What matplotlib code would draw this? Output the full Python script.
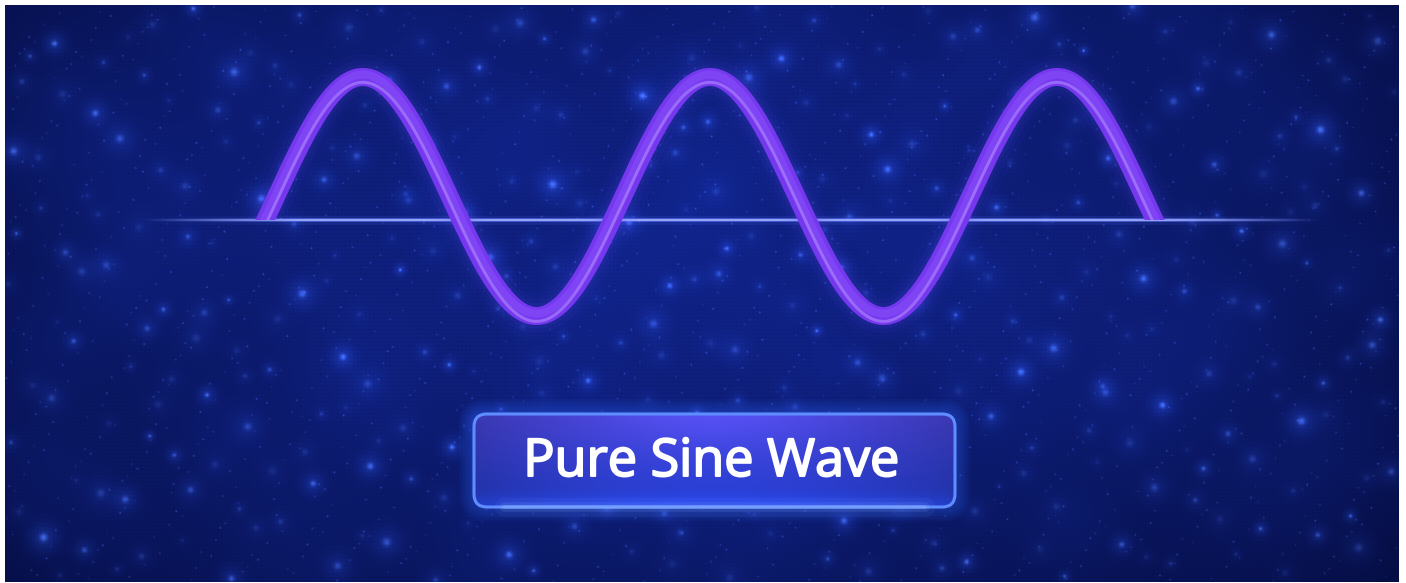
import numpy as np
import matplotlib
matplotlib.use('Agg')
import matplotlib.pyplot as plt
import matplotlib.patheffects as pe
from matplotlib.patches import FancyBboxPatch, Polygon
from matplotlib.collections import LineCollection

# --- chart values (t in cycles, v in amplitude units) ---
cycles = 2.5          # number of full periods shown
amplitude = 1.0
baseline_level = -0.2  # reference line sits slightly below the wave's centre
label = "Pure Sine Wave"

W, H, DPI = 1406, 583, 100


def halton(i, b):
    f, r = 1.0, 0.0
    while i > 0:
        f /= b
        r += f * (i % b)
        i //= b
    return r


def add_blob(img, cx, cy, sigma, amp, col):
    rr = int(3 * sigma) + 1
    x0, x1 = max(0, int(cx) - rr), min(img.shape[1], int(cx) + rr + 1)
    y0, y1 = max(0, int(cy) - rr), min(img.shape[0], int(cy) + rr + 1)
    if x0 >= x1 or y0 >= y1:
        return
    yy, xx = np.mgrid[y0:y1, x0:x1]
    g = np.exp(-((xx - cx) ** 2 + (yy - cy) ** 2) / (2 * sigma ** 2)) * amp
    img[y0:y1, x0:x1] += g[..., None] * np.array(col)[None, None, :]


def starfield(w, h):
    """Deep blue backdrop with soft star glows (decoration only)."""
    yy, xx = np.mgrid[0:h, 0:w]
    r = np.sqrt(((xx - w * 0.48) / (w * 0.55)) ** 2 + ((yy - h * 0.4) / (h * 0.8)) ** 2)
    m = np.clip(r, 0, 1.3) / 1.3
    centre = np.array([15, 32, 128]) / 255
    edge = np.array([5, 12, 62]) / 255
    img = centre[None, None, :] * (1 - m[..., None] ** 1.5) + edge[None, None, :] * (m[..., None] ** 1.5)
    # faint haze patches
    for k in range(1, 50):
        add_blob(img, halton(k, 2) * w, halton(k, 3) * h, 25 + 45 * halton(k, 5), 0.045,
                 (0.15, 0.3, 0.9))
    # glowing stars
    for k in range(1, 360):
        cx, cy = halton(k + 50, 2) * w, halton(k + 50, 3) * h
        s = 1.5 + 3.0 * halton(k, 7)
        a = 0.08 + 0.33 * halton(k, 5) ** 2
        add_blob(img, cx, cy, s * 2.4, a * 0.45, (0.25, 0.45, 1.0))
        add_blob(img, cx, cy, s * 0.6, a, (0.45, 0.65, 1.0))
    # tiny specks
    for k in range(1, 1500):
        cx, cy = halton(k + 900, 5) * w, halton(k + 900, 7) * h
        add_blob(img, cx, cy, 0.7, 0.08 + 0.2 * halton(k, 3), (0.4, 0.55, 1.0))
    # fine LED-screen texture
    tex = 1 - 0.07 * ((xx % 4 == 0) | (yy % 4 == 0))
    img = img * tex[..., None]
    return np.clip(img, 0, 1)


fig = plt.figure(figsize=(W / DPI, H / DPI), dpi=DPI, facecolor='white')

# background + label layer in pixel coordinates
bg = fig.add_axes([0, 0, 1, 1])
bg.set_facecolor('white')
bg.imshow(starfield(1394, 577), extent=(5, 1399, 582, 5), interpolation='bilinear',
          aspect='auto', zorder=0)
bg.set_xlim(0, W)
bg.set_ylim(H, 0)
bg.axis('off')

# label box
bx, by, bw, bh = 474, 414, 481, 93
for k in range(10, 0, -1):
    glow = FancyBboxPatch((bx, by), bw, bh, boxstyle=f"round,pad={1.5 * k},rounding_size={12 + 1.5 * k}",
                          fc='#3a6cff', ec='none', alpha=0.045, zorder=2)
    bg.add_patch(glow)
box = FancyBboxPatch((bx, by), bw, bh, boxstyle="round,pad=0,rounding_size=13",
                     fc='none', ec='#5f8dff', lw=2.2, zorder=5)
bg.add_patch(box)
gy, gx = np.mgrid[0:60, 0:200]
gyn, gxn = gy / 59.0, gx / 199.0
top = np.array([74, 70, 222]) / 255
bot = np.array([36, 62, 210]) / 255
grad = top[None, None, :] * (1 - gyn[..., None]) + bot[None, None, :] * gyn[..., None]
side = np.abs(gxn - 0.5) * 2
grad = grad * (1 - 0.2 * side[..., None] ** 2)
grad += (np.exp(-((gxn - 0.5) / 0.25) ** 2 - (gyn / 0.35) ** 2) * 0.08)[..., None] * np.array([0.6, 0.5, 1.0])
grad += (np.exp(-((1 - gyn) / 0.12) ** 2) * 0.12)[..., None] * np.array([0.2, 0.4, 1.0])
fill = bg.imshow(np.clip(grad, 0, 1), extent=(bx, bx + bw, by + bh, by), aspect='auto',
                 interpolation='bilinear', zorder=3)
fill.set_clip_path(box)
bg.set_xlim(0, W)
bg.set_ylim(H, 0)
for lw, al in [(14, 0.06), (7, 0.12), (3, 0.35)]:
    bg.plot([bx + 30, bx + bw - 30], [by + bh, by + bh], color='#8fb4ff', lw=lw,
            alpha=al, solid_capstyle='round', zorder=6)
bg.text(bx + bw / 2 - 3, by + bh / 2 + 2, label, ha='center', va='center', color='white',
        fontsize=37.5, family='Open Sans', zorder=7,
        path_effects=[pe.withStroke(linewidth=1.4, foreground='white')])

# wave layer in data coordinates (t: cycles, v: amplitude)
ax = fig.add_axes([0, 0, 1, 1])
ax.patch.set_alpha(0)
ax.axis('off')
ax.set_xlim(-0.796, 3.256)
ax.set_ylim(-3.234, 1.644)

dt = np.arcsin(-baseline_level / amplitude) / (2 * np.pi)
t = np.linspace(-dt - 0.04, cycles + dt + 0.04, 2000)
v = amplitude * np.sin(2 * np.pi * t)

# reference line, fading at both ends
tl = np.linspace(-0.39, 3.0, 400)
alpha = np.clip(np.minimum(tl + 0.39, 3.0 - tl) / 0.45, 0, 1)
pts = np.column_stack([tl, np.full_like(tl, baseline_level)])
segs = np.stack([pts[:-1], pts[1:]], axis=1)
for lw, amax, col in [(9, 0.12, (0.35, 0.45, 1.0)), (4, 0.5, (0.42, 0.52, 1.0)),
                      (2.0, 0.9, (0.62, 0.68, 1.0))]:
    cols = np.zeros((len(segs), 4))
    cols[:, :3] = col
    cols[:, 3] = alpha[:-1] * amax
    ax.add_collection(LineCollection(segs, colors=cols, linewidths=lw * 0.72, zorder=2))

# clip the band flat at the reference line near both ends
yl, yt = -3.234, 1.644
clip = Polygon([(-0.796, baseline_level), (0.1, baseline_level), (0.1, yl), (2.4, yl),
                (2.4, baseline_level), (3.256, baseline_level), (3.256, yt), (-0.796, yt)],
               closed=True, transform=ax.transData, fc='none', ec='none')
ax.add_patch(clip)

layers = [
    (46, '#5a4cff', 0.04),
    (34, '#6450ff', 0.06),
    (25, '#6d4cff', 0.08),
    (18, '#7538ee', 1.0),
]
for px, c, a in layers:
    ln, = ax.plot(t, v, color=c, lw=px * 0.72, alpha=a, solid_capstyle='butt', zorder=3)
    ln.set_clip_path(clip)
hl, = ax.plot(t, v + 0.02, color='#8c55ff', lw=8 * 0.72, alpha=0.45, solid_capstyle='butt', zorder=4)
hl.set_clip_path(clip)
hl2, = ax.plot(t, v - 0.045, color='#b892ff', lw=3 * 0.72, alpha=0.55, solid_capstyle='butt', zorder=5)
hl2.set_clip_path(clip)

fig.savefig('out.png', dpi=DPI, facecolor='white')
